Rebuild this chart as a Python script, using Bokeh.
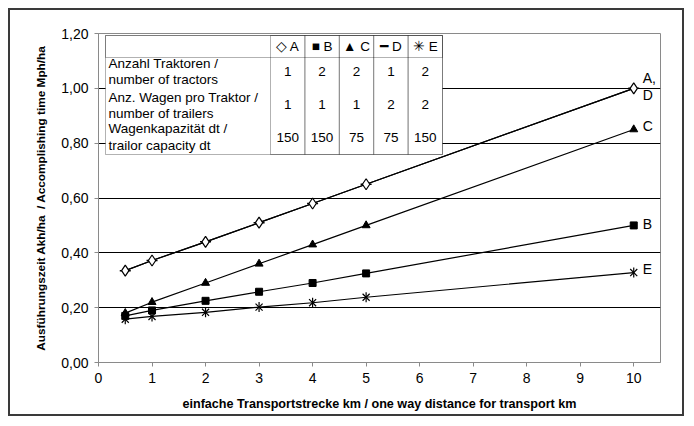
import numpy as np
from bokeh.plotting import figure
from bokeh.models import (FixedTicker, CustomJSTickFormatter, BoxAnnotation, Label)
from bokeh.embed import file_html
from bokeh.resources import INLINE

# ---------------- data ----------------
distance_km = [0.5, 1, 2, 3, 4, 5, 10]
series_A = [0.335, 0.372, 0.44, 0.51, 0.58, 0.65, 1.00]
series_B = [0.17, 0.19, 0.225, 0.258, 0.29, 0.325, 0.50]
series_C = [0.18, 0.22, 0.29, 0.36, 0.43, 0.50, 0.85]
series_D = [0.335, 0.372, 0.44, 0.51, 0.58, 0.65, 1.00]
series_E = [0.158, 0.168, 0.183, 0.202, 0.218, 0.238, 0.328]

series_names = ["A", "B", "C", "D", "E"]
end_labels = ["A,", "B", "C", "D", "E"]
header_symbols = ["\u25c7", "\u25a0", "\u25b2", "\u2501", "\u2733"]

row_labels = [["Anzahl Traktoren /", "number of tractors"],
              ["Anz. Wagen pro Traktor /", "number of trailers"],
              ["Wagenkapazit\u00e4t dt /", "trailor capacity dt"]]
tractors = [1, 2, 2, 1, 2]
trailers = [1, 1, 1, 2, 2]
capacity = [150, 150, 75, 75, 150]

x_ticks = [0, 1, 2, 3, 4, 5, 6, 7, 8, 9, 10]
y_ticks = [0.0, 0.2, 0.4, 0.6, 0.8, 1.0, 1.2]

x_title = "einfache Transportstrecke km / one way distance for transport km"
y_title = "Ausf\u00fchrungszeit Akh/ha \u00a0/ Accomplishing time Mph/ha"

FONT = "Liberation Sans"
XMAX, YMAX = 10.5, 1.2

p = figure(width=676, height=408, x_range=(0, XMAX), y_range=(0, YMAX),
           output_backend="svg", toolbar_location=None,
           min_border_left=88, min_border_right=26, min_border_top=23,
           min_border_bottom=56)
p.styles = {"border": "2px solid #3a3a3a", "margin": "8px"}
p.background_fill_color = "white"
p.border_fill_color = "white"
p.outline_line_color = "#8a8a8a"
p.outline_line_width = 1

# axes
for ax in (p.xaxis[0], p.yaxis[0]):
    ax.axis_line_color = "#8a8a8a"
    ax.major_tick_line_color = "#8a8a8a"
    ax.minor_tick_line_color = None
    ax.major_tick_in = 0
    ax.major_tick_out = 4
    ax.major_label_text_font = FONT
    ax.major_label_text_font_size = "14px"
    ax.major_label_text_color = "black"
    ax.axis_label_text_font = FONT
    ax.axis_label_text_font_style = "bold"
    ax.axis_label_text_color = "black"

p.xaxis.ticker = FixedTicker(ticks=x_ticks)
p.yaxis.ticker = FixedTicker(ticks=y_ticks)
p.yaxis.formatter = CustomJSTickFormatter(code="return tick.toFixed(2).replace('.', ',');")
p.xaxis.major_label_standoff = 6
p.yaxis.major_label_standoff = 6
p.xaxis.axis_label = x_title
p.yaxis.axis_label = y_title
p.xaxis.axis_label_text_font_size = "12.6px"
p.yaxis.axis_label_text_font_size = "11.8px"
p.xaxis.axis_label_standoff = 11
p.yaxis.axis_label_standoff = 10

p.xgrid.grid_line_color = None
p.ygrid.grid_line_color = "black"
p.ygrid.grid_line_width = 1
p.ygrid.ticker = FixedTicker(ticks=y_ticks)

# series
all_series = [series_A, series_B, series_C, series_D, series_E]
for ys in all_series:
    p.line(distance_km, ys, line_color="black", line_width=1.2)

p.scatter(distance_km, series_D, marker="dash", size=11, line_color="black", line_width=1.5)
p.scatter(distance_km, series_A, marker="diamond", size=11, fill_color="white",
          line_color="black", line_width=1.2)
p.scatter(distance_km, series_B, marker="square", size=7, fill_color="black", line_color="black")
p.scatter(distance_km, series_C, marker="triangle", size=8, fill_color="black", line_color="black")
p.scatter(distance_km, series_E, marker="x", size=10, line_color="black", line_width=1.2)
p.scatter(distance_km, series_E, marker="dash", angle=np.pi / 2, size=10,
          line_color="black", line_width=1.2)

# end labels
end_offsets = [-10, -1, -3, 7, -4]
for lab, ys, off in zip(end_labels, all_series, end_offsets):
    p.add_layout(Label(x=distance_km[-1], y=ys[-1], text=lab, x_offset=9, y_offset=-off,
                       text_font=FONT, text_font_size="14px", text_baseline="middle",
                       text_align="left", text_color="black"))

# ---------------- table (legend) ----------------
FL, FW, FB, FH = 98.0, 562.0, 362.0, 329.0


def px_x(px):
    return (px - FL) / FW * XMAX


def px_y(py):
    return (FB - py) / FH * YMAX


T_LEFT, T_COL1, T_COLW = 105, 270, 34.4
T_TOP, T_HEAD, T_BOT = 35, 57, 154
t_right = T_COL1 + T_COLW * len(series_names)

p.add_layout(BoxAnnotation(left=px_x(T_LEFT), right=px_x(t_right), top=px_y(T_TOP),
                           bottom=px_y(T_BOT), fill_color="white", fill_alpha=1,
                           line_color="black", line_width=1))
p.add_layout(BoxAnnotation(left=px_x(T_LEFT), right=px_x(t_right), top=px_y(T_TOP),
                           bottom=px_y(T_HEAD), fill_alpha=0,
                           line_color="black", line_width=1))
for i in range(len(series_names)):
    p.add_layout(BoxAnnotation(left=px_x(T_COL1 + i * T_COLW),
                               right=px_x(T_COL1 + (i + 1) * T_COLW),
                               top=px_y(T_TOP), bottom=px_y(T_BOT), fill_alpha=0,
                               line_color="black", line_width=1))

TFS = "13.5px"


def tlabel(px, py, text, align="left"):
    p.add_layout(Label(x=px_x(px), y=px_y(py), text=text, text_font=FONT,
                       text_font_size=TFS, text_baseline="middle", text_align=align,
                       text_color="black"))


row_value_y = [71, 104, 137]
row_text_y = [(63, 79), (97, 113), (128, 145)]
rows = [tractors, trailers, capacity]
for i, name in enumerate(series_names):
    cx = T_COL1 + (i + 0.5) * T_COLW
    tlabel(cx, 46, header_symbols[i] + " " + name, align="center")
    for r, vals in enumerate(rows):
        tlabel(cx, row_value_y[r], str(vals[i]), align="center")
for r, (l1, l2) in enumerate(row_labels):
    tlabel(T_LEFT + 3, row_text_y[r][0], l1)
    tlabel(T_LEFT + 3, row_text_y[r][1], l2)

open("out.html", "w").write(file_html(p, INLINE))
